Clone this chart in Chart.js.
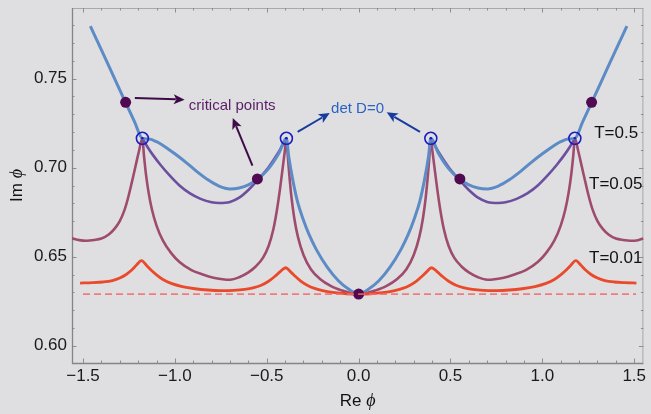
<!DOCTYPE html>
<html><head><meta charset="utf-8">
<script src="https://cdn.jsdelivr.net/npm/chart.js@4.4.1/dist/chart.umd.min.js"></script>
<style>html,body{margin:0;padding:0;background:#dfdfe1;}#wrap{width:651px;height:414px;}</style>
</head><body><div id="wrap"><canvas id="c" width="651" height="414"></canvas></div>
<script>
// ---- tick labels ----
const xTicks = [-1.5, -1.0, -0.5, 0.0, 0.5, 1.0, 1.5];
const xTickLabels = ['\u22121.5', '\u22121.0', '\u22120.5', '0.0', '0.5', '1.0', '1.5'];
const yTicks = [0.60, 0.65, 0.70, 0.75];
const yTickLabels = ['0.60', '0.65', '0.70', '0.75'];

// ---- T = 0.5 (blue) ----
const blueX = [-1.46,-1.40,-1.335,-1.27,-1.22,-1.177,-1.14,-1.10,-1.05,-1.00,-0.94,-0.88,-0.82,-0.76,-0.70,-0.65,-0.60,-0.55,-0.49,-0.435,-0.393,-0.38,-0.36,-0.334,-0.30,-0.27,-0.23,-0.17,-0.11,-0.055,0,
  0.055,0.11,0.17,0.23,0.27,0.30,0.334,0.36,0.38,0.393,0.435,0.49,0.55,0.60,0.65,0.70,0.76,0.82,0.88,0.94,1.00,1.05,1.10,1.14,1.177,1.22,1.27,1.335,1.40,1.46];
const blueY = [0.7795,0.7662,0.7516,0.7370,0.7259,0.7165,0.7161,0.7146,0.7115,0.7078,0.7030,0.6978,0.6932,0.6897,0.6881,0.6886,0.6903,0.6935,0.6995,0.7080,0.7165,0.706,0.694,0.6815,0.6705,0.6625,0.654,0.644,0.6365,0.6318,0.629,
  0.6318,0.6365,0.644,0.654,0.6625,0.6705,0.6815,0.694,0.706,0.7165,0.7080,0.6995,0.6935,0.6903,0.6886,0.6881,0.6897,0.6932,0.6978,0.7030,0.7078,0.7115,0.7146,0.7161,0.7165,0.7259,0.7370,0.7516,0.7662,0.7795];

// ---- purple branch (left and right arcs) ----
const purpleLX = [-1.177,-1.15,-1.12,-1.08,-1.03,-0.975,-0.92,-0.86,-0.80,-0.76,-0.70,-0.65,-0.60,-0.55,-0.49,-0.435,-0.393];
const purpleLY = [0.7165,0.7118,0.7072,0.7018,0.6958,0.6900,0.6857,0.6825,0.6806,0.6802,0.6808,0.6832,0.6875,0.6930,0.7003,0.7088,0.7165];
const purpleRX = [0.393,0.435,0.49,0.55,0.60,0.65,0.70,0.76,0.80,0.86,0.92,0.975,1.03,1.08,1.12,1.15,1.177];
const purpleRY = [0.7165,0.7088,0.7003,0.6930,0.6875,0.6832,0.6808,0.6802,0.6806,0.6825,0.6857,0.6900,0.6958,0.7018,0.7072,0.7118,0.7165];

// ---- T = 0.05 (maroon) ----
const maroonX = [-1.56,-1.52,-1.48,-1.44,-1.40,-1.36,-1.33,-1.30,-1.275,-1.255,-1.235,-1.215,-1.195,-1.177,-1.168,-1.157,-1.143,-1.125,-1.10,-1.065,-1.02,-0.975,-0.91,-0.848,-0.79,-0.73,-0.70,-0.65,-0.60,-0.56,-0.52,-0.49,-0.465,-0.445,-0.428,-0.413,-0.402,-0.393,-0.385,-0.376,-0.365,-0.35,-0.33,-0.30,-0.26,-0.21,-0.15,-0.09,-0.04,0,
  0.04,0.09,0.15,0.21,0.26,0.30,0.33,0.35,0.365,0.376,0.385,0.393,0.402,0.413,0.428,0.445,0.465,0.49,0.52,0.56,0.60,0.65,0.70,0.73,0.79,0.848,0.91,0.975,1.02,1.065,1.10,1.125,1.143,1.157,1.168,1.177,1.195,1.215,1.235,1.255,1.275,1.30,1.33,1.36,1.40,1.44,1.48,1.52,1.55];
const maroonY = [0.6603,0.6593,0.6590,0.6594,0.6602,0.6625,0.6655,0.6700,0.6760,0.6830,0.6915,0.7005,0.7095,0.7165,0.7065,0.6960,0.6860,0.6765,0.6675,0.6590,0.6520,0.6470,0.6425,0.6400,0.6382,0.6372,0.6371,0.6385,0.6412,0.6445,0.6495,0.6560,0.6650,0.6760,0.6880,0.7000,0.7090,0.7165,0.7060,0.6945,0.6830,0.6715,0.6610,0.6510,0.6430,0.6375,0.6335,0.6310,0.6295,0.629,
  0.6295,0.6310,0.6335,0.6375,0.6430,0.6510,0.6610,0.6715,0.6830,0.6945,0.7060,0.7165,0.7090,0.7000,0.6880,0.6760,0.6650,0.6560,0.6495,0.6445,0.6412,0.6385,0.6371,0.6372,0.6382,0.6400,0.6425,0.6470,0.6520,0.6590,0.6675,0.6765,0.6860,0.6960,0.7065,0.7165,0.7095,0.7005,0.6915,0.6830,0.6760,0.6700,0.6655,0.6625,0.6602,0.6594,0.6590,0.6593,0.6603];

// ---- T = 0.01 (red) ----
const redX = [-1.516,-1.45,-1.39,-1.34,-1.30,-1.265,-1.235,-1.21,-1.182,-1.155,-1.13,-1.10,-1.065,-1.02,-0.96,-0.89,-0.82,-0.75,-0.68,-0.62,-0.57,-0.53,-0.49,-0.455,-0.425,-0.397,-0.37,-0.345,-0.315,-0.28,-0.24,-0.19,-0.13,-0.065,0,
  0.065,0.13,0.19,0.24,0.28,0.315,0.345,0.37,0.397,0.425,0.455,0.49,0.53,0.57,0.62,0.68,0.75,0.82,0.89,0.96,1.02,1.065,1.10,1.13,1.155,1.182,1.21,1.235,1.265,1.30,1.34,1.39,1.45,1.512];
const redY = [0.6352,0.6354,0.6358,0.6366,0.6380,0.6400,0.6425,0.6452,0.6478,0.6452,0.6425,0.6398,0.6372,0.6350,0.6332,0.6320,0.6313,0.6310,0.6311,0.6316,0.6326,0.6340,0.6362,0.6390,0.6418,0.6438,0.6415,0.6390,0.6363,0.6340,0.6322,0.6308,0.6298,0.6292,0.629,
  0.6292,0.6298,0.6308,0.6322,0.6340,0.6363,0.6390,0.6415,0.6438,0.6418,0.6390,0.6362,0.6340,0.6326,0.6316,0.6311,0.6310,0.6313,0.6320,0.6332,0.6350,0.6372,0.6398,0.6425,0.6452,0.6478,0.6452,0.6425,0.6400,0.6380,0.6366,0.6358,0.6354,0.6352];

// ---- dashed reference level ----
const dashX = [-1.5, 1.51];
const dashY = [0.629, 0.629];

// ---- critical points and det D = 0 points ----
const critX = [-1.268, -0.551, 0, 0.551, 1.268];
const critY = [0.7367, 0.6937, 0.629, 0.6937, 0.7367];
const detX = [-1.177, -0.393, 0.393, 1.177];
const detY = [0.7165, 0.7165, 0.7165, 0.7165];

// ---- annotation text ----
const curveLabels = ['T=0.5', 'T=0.05', 'T=0.01'];
const noteCritical = 'critical points';
const noteDet = 'det D=0';

const pts = (X, Y) => X.map((x, i) => ({x: x, y: Y[i]}));
const FONT = '"Liberation Sans", Arial, Helvetica, sans-serif';

const annot = {
  arrows: [
    {from: [-1.218, 0.7392], to: [-0.947, 0.7382], color: '#3d0b47'},
    {from: [-0.578, 0.7011], to: [-0.685, 0.7279], color: '#3d0b47'},
    {from: [-0.332, 0.7201], to: [-0.157, 0.7307], color: '#173c9e'},
    {from: [0.334, 0.7201], to: [0.153, 0.7311], color: '#173c9e'}
  ],
  texts: [
    {t: noteCritical, x: -0.924, y: 0.7348, color: '#5a1e66', size: 15},
    {t: noteDet, x: -0.150, y: 0.7331, color: '#2c62c4', size: 15},
    {t: curveLabels[0], x: 1.282, y: 0.7195, color: '#111', size: 17},
    {t: curveLabels[1], x: 1.254, y: 0.6904, color: '#111', size: 17},
    {t: curveLabels[2], x: 1.254, y: 0.6493, color: '#111', size: 17}
  ]
};

const framePlugin = {
  id: 'frame',
  beforeDraw(chart) {
    const c = chart.ctx;
    c.save(); c.fillStyle = '#dfdfe1'; c.fillRect(0, 0, chart.width, chart.height); c.restore();
  },
  beforeDatasetsDraw(chart) {
    const c = chart.ctx, a = chart.chartArea, xs = chart.scales.x, ys = chart.scales.y;
    c.save();
    c.lineWidth = 1;
    c.strokeStyle = '#a9a9ab';
    c.beginPath(); c.moveTo(a.left, a.top + 0.5); c.lineTo(a.right, a.top + 0.5);
    c.moveTo(a.right - 0.5, a.top); c.lineTo(a.right - 0.5, a.bottom); c.stroke();
    const xMin = xs.min, xMax = xs.max, yMin = ys.min, yMax = ys.max;
    c.strokeStyle = '#8e8e90';
    c.beginPath();
    for (let k = Math.ceil(xMin * 10 - 1e-9); k <= Math.floor(xMax * 10 + 1e-9); k++) {
      const px = Math.round(xs.getPixelForValue(k / 10)) + 0.5;
      const len = (k % 5 === 0) ? 4.5 : 2.5;
      c.moveTo(px, a.bottom); c.lineTo(px, a.bottom - len);
      c.moveTo(px, a.top); c.lineTo(px, a.top + len);
    }
    for (let k = Math.ceil(yMin * 100 - 1e-9); k <= Math.floor(yMax * 100 + 1e-9); k++) {
      const py = Math.round(ys.getPixelForValue(k / 100)) + 0.5;
      const len = (k % 5 === 0) ? 4.5 : 2.5;
      c.moveTo(a.left, py); c.lineTo(a.left + len, py);
      c.moveTo(a.right, py); c.lineTo(a.right - len, py);
    }
    c.stroke();
    c.strokeStyle = '#858587'; c.lineWidth = 1.3;
    c.beginPath(); c.moveTo(a.left + 0.5, a.top); c.lineTo(a.left + 0.5, a.bottom + 0.5); c.lineTo(a.right, a.bottom + 0.5); c.stroke();
    c.restore();
  },
  afterDraw(chart) {
    const c = chart.ctx, a = chart.chartArea, xs = chart.scales.x, ys = chart.scales.y;
    c.save();
    annot.arrows.forEach(ar => {
      const x1 = xs.getPixelForValue(ar.from[0]), y1 = ys.getPixelForValue(ar.from[1]);
      const x2 = xs.getPixelForValue(ar.to[0]), y2 = ys.getPixelForValue(ar.to[1]);
      const ang = Math.atan2(y2 - y1, x2 - x1), hl = 11, hw = 5;
      c.strokeStyle = ar.color; c.fillStyle = ar.color; c.lineWidth = 2;
      c.beginPath(); c.moveTo(x1, y1); c.lineTo(x2 - hl * 0.8 * Math.cos(ang), y2 - hl * 0.8 * Math.sin(ang)); c.stroke();
      c.beginPath();
      c.moveTo(x2, y2);
      c.lineTo(x2 - hl * Math.cos(ang) + hw * Math.sin(ang), y2 - hl * Math.sin(ang) - hw * Math.cos(ang));
      c.lineTo(x2 - hl * 0.75 * Math.cos(ang), y2 - hl * 0.75 * Math.sin(ang));
      c.lineTo(x2 - hl * Math.cos(ang) - hw * Math.sin(ang), y2 - hl * Math.sin(ang) + hw * Math.cos(ang));
      c.closePath(); c.fill();
    });
    c.textBaseline = 'middle'; c.textAlign = 'left';
    annot.texts.forEach(t => {
      c.font = t.size + 'px ' + FONT; c.fillStyle = t.color;
      c.fillText(t.t, xs.getPixelForValue(t.x), ys.getPixelForValue(t.y));
    });
    const drawTitle = (pre, cx, cy, rot) => {
      c.save(); c.translate(cx, cy); c.rotate(rot);
      c.fillStyle = '#111';
      const f1 = '17px ' + FONT, f2 = 'italic 18px "Liberation Serif", "DejaVu Serif", serif';
      c.font = f1; const w1 = c.measureText(pre).width;
      c.font = f2; const w2 = c.measureText('\u03d5').width;
      const x0 = -(w1 + w2) / 2;
      c.textBaseline = 'middle'; c.textAlign = 'left';
      c.font = f1; c.fillText(pre, x0, 0);
      c.font = f2; c.fillText('\u03d5', x0 + w1, 0);
      c.restore();
    };
    drawTitle('Re ', (a.left + a.right) / 2, 401.5, 0);
    drawTitle('Im ', 17, (a.top + a.bottom) / 2, -Math.PI / 2);
    c.restore();
  }
};

const line = (data, color, width, order, extra) => Object.assign({
  data: data, borderColor: color, borderWidth: width, pointRadius: 0, fill: false,
  cubicInterpolationMode: 'monotone', order: order
}, extra || {});

new Chart(document.getElementById('c'), {
  type: 'line',
  data: {
    datasets: [
      line(pts(dashX, dashY), 'rgba(244,104,104,0.85)', 1.6, 0, {borderDash: [7, 4], cubicInterpolationMode: 'default', tension: 0}),
      {type: 'scatter', data: pts(critX, critY), pointRadius: 5.5, pointBackgroundColor: '#4f0a52', pointBorderWidth: 0, borderWidth: 0, order: 1},
      {type: 'scatter', data: pts(detX, detY), pointRadius: 1.3, pointBackgroundColor: '#1a1ab4', pointBorderWidth: 0, borderWidth: 0, order: 2},
      {type: 'scatter', data: pts(detX, detY), pointRadius: 6, pointBackgroundColor: 'rgba(0,0,0,0)', pointBorderColor: '#1c1cc0', pointBorderWidth: 1.6, borderWidth: 0, order: 3},
      line(pts(redX, redY), '#ea4a2c', 2.8, 4),
      line(pts(blueX, blueY), '#5d8bc6', 3, 5),
      line(pts(purpleLX, purpleLY), '#6c4f9e', 2.6, 6),
      line(pts(purpleRX, purpleRY), '#6c4f9e', 2.6, 7),
      line(pts(maroonX, maroonY), '#9e4b6e', 2.6, 8)
    ]
  },
  options: {
    responsive: false, animation: false, devicePixelRatio: 1,
    layout: {padding: {top: 8, right: 4, left: 0, bottom: 0}},
    plugins: {legend: {display: false}, tooltip: {enabled: false}},
    scales: {
      x: {
        type: 'linear', min: -1.56, max: 1.55,
        grid: {display: false, drawTicks: false}, border: {display: false},
        afterFit(s) { s.height = 51; s.paddingLeft = 0; s.paddingRight = 0; },
        afterBuildTicks(s) { s.ticks = xTicks.map(v => ({value: v})); },
        ticks: {padding: 3, color: '#1a1a1a', font: {family: FONT, size: 17}, maxRotation: 0, autoSkip: false,
          callback: (v, i) => xTickLabels[i]}
      },
      y: {
        type: 'linear', min: 0.5903, max: 0.7897,
        grid: {display: false, drawTicks: false}, border: {display: false},
        afterFit(s) { s.width = 72; s.paddingTop = 0; s.paddingBottom = 0; },
        afterBuildTicks(s) { s.ticks = yTicks.map(v => ({value: v})); },
        ticks: {padding: 5, color: '#1a1a1a', font: {family: FONT, size: 17}, autoSkip: false,
          callback: (v, i) => yTickLabels[i]}
      }
    }
  },
  plugins: [framePlugin]
});
</script></body></html>
